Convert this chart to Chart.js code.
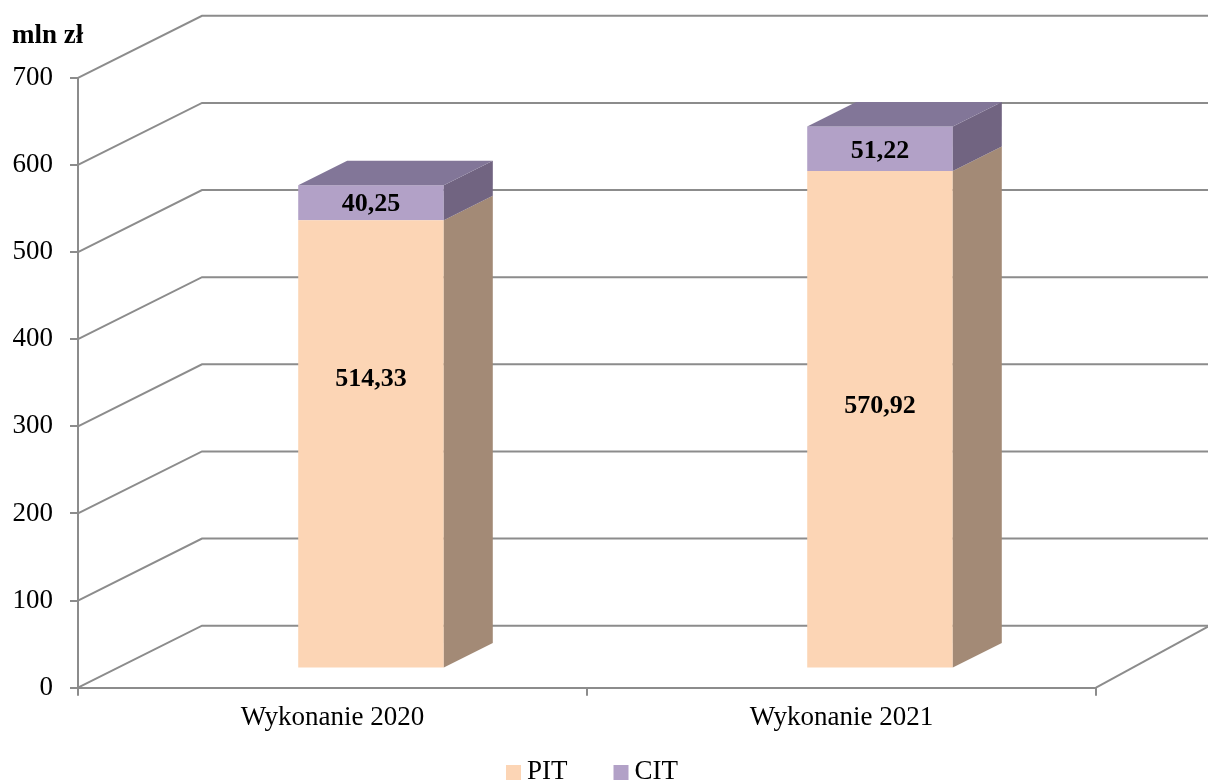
<!DOCTYPE html>
<html><head><meta charset="utf-8">
<script src="https://cdn.jsdelivr.net/npm/chart.js@4.4.0/dist/chart.umd.min.js"></script>
<style>html,body{margin:0;padding:0;background:#fff;overflow:hidden}#wrap{width:1208px;height:782px;position:relative}</style>
</head><body><div id="wrap"><canvas id="c" width="1208" height="782"></canvas></div>
<script>
// ---- data ----
const categories = ['Wykonanie 2020', 'Wykonanie 2021'];
const seriesNames = ['PIT', 'CIT'];
const pitValues = [514.33, 570.92];
const citValues = [40.25, 51.22];
const yTicks = [0, 100, 200, 300, 400, 500, 600, 700];
const unitLabel = 'mln zł';

// ---- style ----
const FONT = "'Liberation Serif','Times New Roman',serif";
const GRID = '#8c8c8c';
const COLORS = {
  PIT: {front: '#FCD5B5', side: '#A38A76', top: '#C9AA92'},
  CIT: {front: '#B2A1C7', side: '#716481', top: '#827698'}
};
const WALL = {dx: 124, dy: -62};     // depth of the 3D box
const BARPLANE = {dx: 38.5, dy: -19.25}; // bar front plane offset
const BARDEPTH = {dx: 49, dy: -24.5};

function fmt(v){ return v.toFixed(2).replace('.', ','); }

const pseudo3d = {
  id: 'pseudo3d',
  beforeDatasetsDraw(chart, args, opts) {
    const {ctx, chartArea: a, scales: {y}} = chart;
    ctx.save();
    ctx.strokeStyle = GRID; ctx.lineWidth = 2;
    y.ticks.forEach(t => {
      const py = y.getPixelForValue(t.value);
      ctx.beginPath();
      ctx.moveTo(a.left, py);
      ctx.lineTo(a.left + WALL.dx, py + WALL.dy);
      ctx.lineTo(chart.width + 5, py + WALL.dy);
      ctx.stroke();
    });
    // floor right edge
    ctx.beginPath();
    ctx.moveTo(a.right, a.bottom);
    ctx.lineTo(a.right + 112, a.bottom - 61);
    ctx.stroke();
    ctx.restore();
    ctx.save();
    ctx.translate(BARPLANE.dx, BARPLANE.dy);
  },
  afterDatasetsDraw(chart, args, opts) {
    const {ctx} = chart;
    const n = chart.data.datasets.length;
    chart.data.datasets.forEach((ds, di) => {
      const meta = chart.getDatasetMeta(di);
      const c = COLORS[ds.label];
      meta.data.forEach((bar) => {
        const p = bar.getProps(['x', 'y', 'base', 'width'], true);
        const l = p.x - p.width / 2, r = p.x + p.width / 2;
        // side face
        ctx.fillStyle = c.side;
        ctx.beginPath();
        ctx.moveTo(r, p.y);
        ctx.lineTo(r + BARDEPTH.dx, p.y + BARDEPTH.dy);
        ctx.lineTo(r + BARDEPTH.dx, p.base + BARDEPTH.dy);
        ctx.lineTo(r, p.base);
        ctx.closePath(); ctx.fill();
        if (di === n - 1) {
          ctx.fillStyle = c.top;
          ctx.beginPath();
          ctx.moveTo(l, p.y);
          ctx.lineTo(l + BARDEPTH.dx, p.y + BARDEPTH.dy);
          ctx.lineTo(r + BARDEPTH.dx, p.y + BARDEPTH.dy);
          ctx.lineTo(r, p.y);
          ctx.closePath(); ctx.fill();
        }
      });
    });
    // data labels
    ctx.fillStyle = '#000';
    ctx.font = 'bold 26px ' + FONT;
    ctx.textAlign = 'center'; ctx.textBaseline = 'middle';
    chart.data.datasets.forEach((ds, di) => {
      const meta = chart.getDatasetMeta(di);
      const nudge = (opts.labelNudge || {})[ds.label] || [];
      meta.data.forEach((bar, i) => {
        const p = bar.getProps(['x', 'y', 'base'], true);
        ctx.fillText(fmt(ds.data[i]), p.x, (p.y + p.base) / 2 + (nudge[i] || 0) + 1);
      });
    });
    ctx.restore();
  },
  afterDraw(chart) {
    const {ctx, chartArea: a} = chart;
    ctx.save();
    // unit label
    ctx.fillStyle = '#000';
    ctx.font = 'bold 27px ' + FONT;
    ctx.textAlign = 'left'; ctx.textBaseline = 'alphabetic';
    ctx.fillText(unitLabel, 12, 43);
    // legend
    ctx.font = '27px ' + FONT;
    const box = 15, gap = 6, spacing = 46;
    const items = chart.data.datasets.map(ds => ({label: ds.label, color: ds.backgroundColor, w: box + gap + ctx.measureText(ds.label).width}));
    const total = items.reduce((s, it) => s + it.w, 0) + spacing * (items.length - 1);
    let x = (a.left + a.right) / 2 - total / 2 + 5;
    const baseY = 779;
    items.forEach(it => {
      ctx.fillStyle = it.color;
      ctx.fillRect(x, baseY - 14, box, box);
      ctx.fillStyle = '#000';
      ctx.fillText(it.label, x + box + gap, baseY);
      x += it.w + spacing;
    });
    ctx.restore();
  }
};

new Chart(document.getElementById('c'), {
  type: 'bar',
  data: {
    labels: categories,
    datasets: [
      {label: seriesNames[0], data: pitValues, backgroundColor: COLORS.PIT.front, borderWidth: 0, clip: false},
      {label: seriesNames[1], data: citValues, backgroundColor: COLORS.CIT.front, borderWidth: 0, clip: false}
    ]
  },
  options: {
    responsive: false,
    animation: false,
    devicePixelRatio: 1,
    datasets: {bar: {barPercentage: 0.286, categoryPercentage: 1}},
    layout: {padding: {top: 77.8, right: 112, bottom: 0, left: 0}},
    plugins: {
      legend: {display: false},
      tooltip: {enabled: false},
      pseudo3d: {labelNudge: {PIT: [-66, -14], CIT: [0, 2]}}
    },
    scales: {
      x: {
        stacked: true,
        afterFit(s) { s.height = 94.3; },
        grid: {offset: true, drawOnChartArea: false, drawTicks: true, tickLength: 8, color: GRID, lineWidth: 2},
        border: {display: true, color: GRID, width: 2},
        ticks: {color: '#000', font: {family: FONT, size: 27}, padding: 6, maxRotation: 0}
      },
      y: {
        stacked: true,
        min: 0, max: yTicks[yTicks.length - 1],
        afterFit(s) { s.width = 78; },
        afterBuildTicks(s) { s.ticks = yTicks.map(v => ({value: v})); },
        grid: {drawOnChartArea: false, drawTicks: true, tickLength: 8, color: GRID, lineWidth: 2},
        border: {display: true, color: GRID, width: 2},
        ticks: {color: '#000', font: {family: FONT, size: 27}, padding: 17}
      }
    }
  },
  plugins: [pseudo3d]
});
</script></body></html>
